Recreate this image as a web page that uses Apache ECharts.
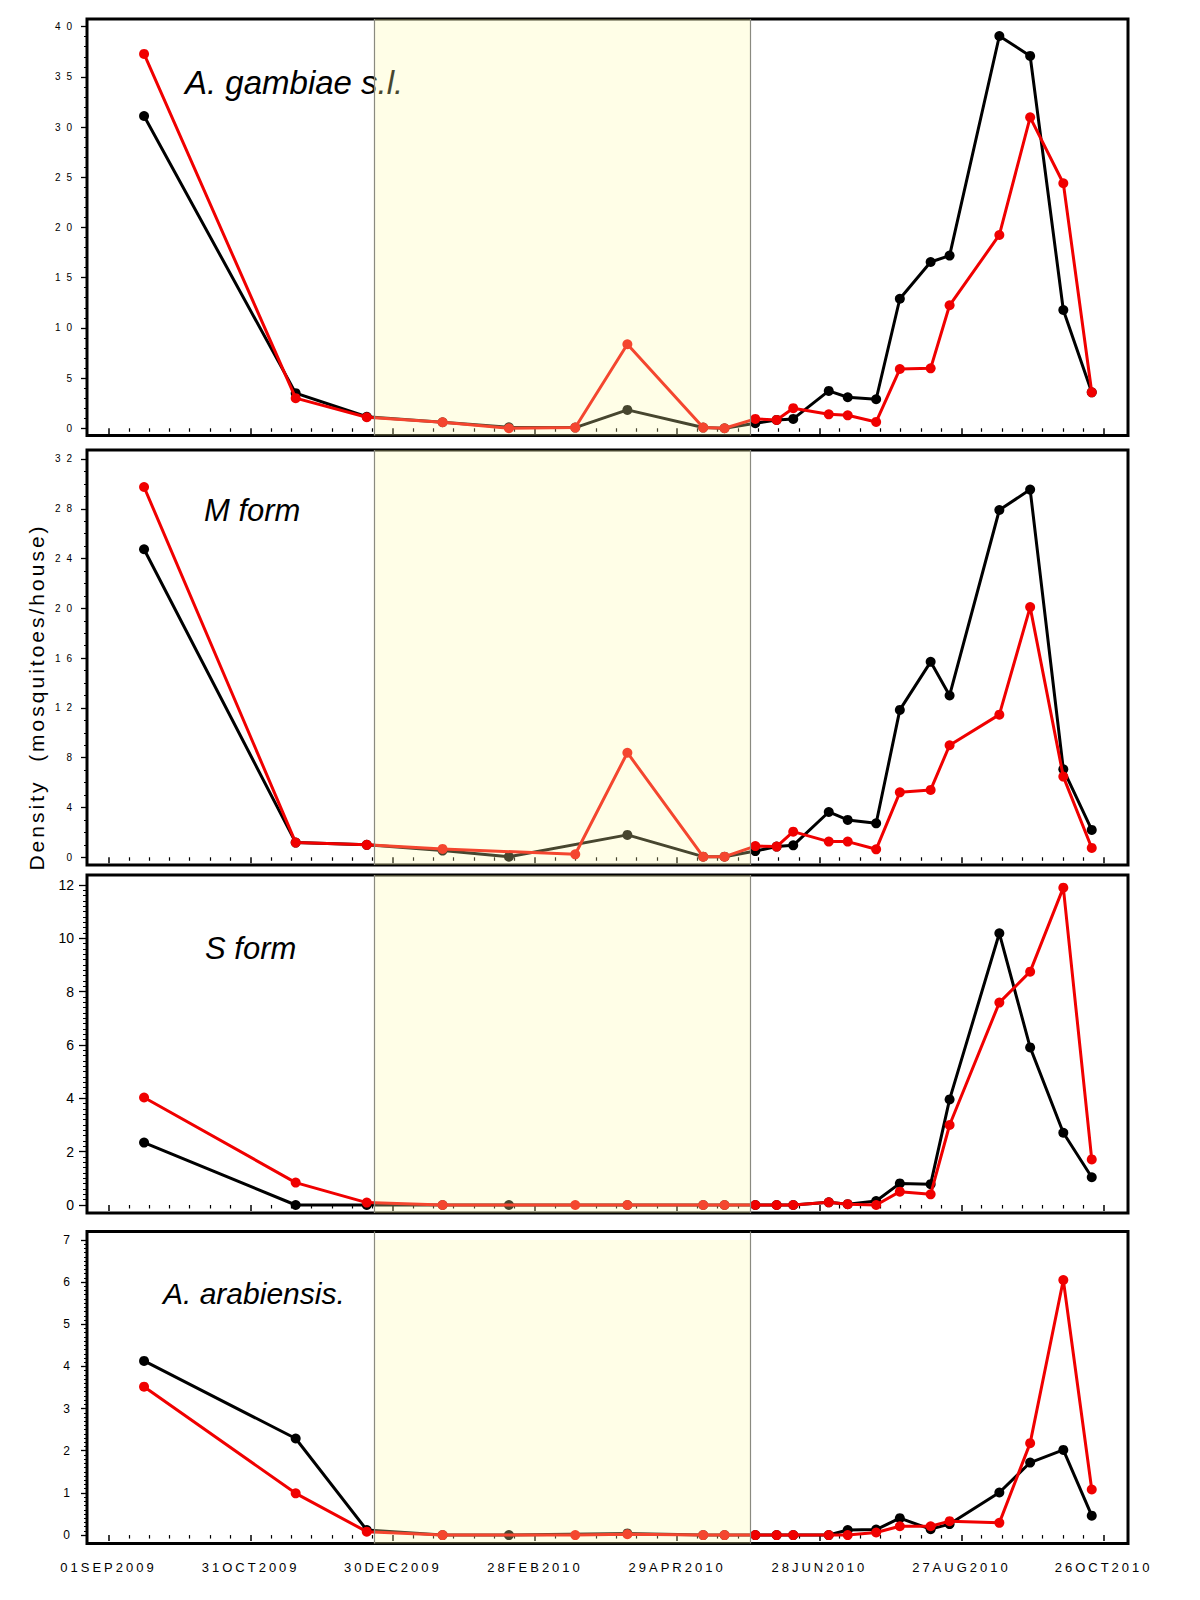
<!DOCTYPE html>
<html>
<head>
<meta charset="utf-8">
<script src="https://cdn.jsdelivr.net/npm/echarts@6/dist/echarts.min.js"></script>
<style>
  html, body { margin: 0; padding: 0; background: #fff; }
  #chart { width: 1200px; height: 1600px; }
  text[style*="lsxlab"] { letter-spacing: 3px; }
  text[style*="lsylab"] { letter-spacing: 6px; }
  text[style*="lsytit"] { letter-spacing: 3px; }
</style>
</head>
<body>
<div id="chart"></div>
<script>
// ---------------- DATA ----------------
const sampleDates = ['2009-09-16','2009-11-19','2009-12-19','2010-01-20','2010-02-17','2010-03-17',
  '2010-04-08','2010-05-10','2010-05-19','2010-06-01','2010-06-10','2010-06-17','2010-07-02',
  '2010-07-10','2010-07-22','2010-08-01','2010-08-14','2010-08-22','2010-09-12','2010-09-25',
  '2010-10-09','2010-10-21'];

const panelTitles = ['A. gambiae s.l.', 'M form', 'S form', 'A. arabiensis.'];

const gambiaeBlack = [31.1, 3.5, 1.15, 0.6, 0.1, 0.07, 1.83, 0.07, 0.0, 0.5, 0.83, 0.93, 3.72, 3.09, 2.89, 12.9, 16.56, 17.2, 39.07, 37.08, 11.78, 3.58];
const gambiaeRed   = [37.28, 3.0, 1.1, 0.6, 0.0, 0.07, 8.37, 0.07, 0.0, 0.93, 0.83, 2.0, 1.39, 1.29, 0.63, 5.9, 5.97, 12.25, 19.25, 30.97, 24.4, 3.58];

const mFormBlack = [24.75, 1.18, 1.0, 0.54, 0.05, null, 1.8, 0.05, 0.05, 0.5, 0.86, 0.96, 3.64, 3.0, 2.73, 11.84, 15.7, 13.0, 27.9, 29.54, 7.07, 2.2];
const mFormRed   = [29.75, 1.18, 1.0, 0.67, null, 0.24, 8.4, 0.05, 0.05, 0.9, 0.86, 2.06, 1.26, 1.26, 0.64, 5.22, 5.41, 9.0, 11.46, 20.1, 6.48, 0.75];

const sFormBlack = [2.34, 0.0, 0.0, 0.0, 0.0, null, 0.0, 0.0, 0.0, 0.0, 0.0, 0.0, 0.1, 0.03, 0.15, 0.81, 0.78, 3.96, 10.19, 5.91, 2.71, 1.04];
const sFormRed   = [4.03, 0.84, 0.09, 0.0, null, 0.0, 0.0, 0.0, 0.0, 0.0, 0.0, 0.0, 0.1, 0.03, 0.0, 0.5, 0.4, 3.0, 7.59, 8.75, 11.9, 1.71];

const arabBlack = [4.13, 2.29, 0.12, 0.0, 0.0, null, 0.04, 0.0, 0.0, 0.0, 0.0, 0.0, 0.0, 0.12, 0.13, 0.4, 0.14, 0.26, 1.01, 1.72, 2.02, 0.46];
const arabRed   = [3.52, 0.99, 0.08, 0.0, null, 0.0, 0.02, 0.0, 0.0, 0.0, 0.0, 0.0, 0.0, 0.0, 0.06, 0.21, 0.21, 0.33, 0.29, 2.18, 6.05, 1.08];

const xTickLabels = ['01SEP2009','31OCT2009','30DEC2009','28FEB2010','29APR2010','28JUN2010','27AUG2010','26OCT2010'];
const yTicks1 = [0, 5, 10, 15, 20, 25, 30, 35, 40];
const yTicks2 = [0, 4, 8, 12, 16, 20, 24, 28, 32];
const yTicks3 = [0, 2, 4, 6, 8, 10, 12];
const yTicks4 = [0, 1, 2, 3, 4, 5, 6, 7];
const yMinorSteps = [1, 1, 0.2, 0.1];

const dryStart = '2009-12-22';
const dryEnd = '2010-05-30';
const yAxisTitle = 'Density  (mosquitoes/house)';

// ---------------- HELPERS ----------------
const DAY = 86400000;
const MONTHS = ['JAN','FEB','MAR','APR','MAY','JUN','JUL','AUG','SEP','OCT','NOV','DEC'];
function ts(s) { const p = s.split('-').map(Number); return Date.UTC(p[0], p[1]-1, p[2]); }
function parseSas(lbl) {
  const d = +lbl.slice(0,2), m = MONTHS.indexOf(lbl.slice(2,5)), y = +lbl.slice(5);
  return Date.UTC(y, m, d);
}
const xTickTs = xTickLabels.map(parseSas);
const labelByTs = {};
xTickTs.forEach((t, i) => { labelByTs[t] = xTickLabels[i]; });
const xMinorTs = [];
for (let i = 0; i < xTickTs.length - 1; i++) {
  const step = (xTickTs[i+1] - xTickTs[i]) / 7;
  for (let k = 1; k < 7; k++) xMinorTs.push(xTickTs[i] + k * step);
}
function minorTicks(ticks, step) {
  const out = [];
  const lo = ticks[0], hi = ticks[ticks.length-1];
  const n = Math.round((hi - lo) / step);
  for (let k = 0; k <= n; k++) {
    const v = +(lo + k * step).toFixed(4);
    if (!ticks.some(t => Math.abs(t - v) < 1e-6)) out.push(v);
  }
  return out;
}

// ---------------- LAYOUT ----------------
const xMin = xTickTs[0] - 9.08 * DAY;
const xMax = xTickTs[xTickTs.length-1] + 10.3 * DAY;
const panels = [
  { top: 19,     bottom: 435.5,  ymin: -0.72, ymax: 40.76, ticks: yTicks1, black: gambiaeBlack, red: gambiaeRed,
    lblSize: 10, lblFam: "'Liberation Sans', lsylab", lblMargin: 9, tickLen: 6, minorLen: 3,
    title: { x: 185, y: 82, size: 33 }, shadeTop: null },
  { top: 450,    bottom: 865,    ymin: -0.62, ymax: 32.72, ticks: yTicks2, black: mFormBlack, red: mFormRed,
    lblSize: 10, lblFam: "'Liberation Sans', lsylab", lblMargin: 9, tickLen: 6, minorLen: 3,
    title: { x: 204, y: 510, size: 31 }, shadeTop: null },
  { top: 875,    bottom: 1213,   ymin: -0.30, ymax: 12.375, ticks: yTicks3, black: sFormBlack, red: sFormRed,
    lblSize: 14, lblFam: "'Liberation Sans'", lblMargin: 13, tickLen: 8, minorLen: 4,
    title: { x: 205, y: 948, size: 31 }, shadeTop: null },
  { top: 1231.5, bottom: 1543.5, ymin: -0.20, ymax: 7.2, ticks: yTicks4, black: arabBlack, red: arabRed,
    lblSize: 12, lblFam: "'Liberation Sans'", lblMargin: 17, tickLen: 6, minorLen: 3,
    title: { x: 163, y: 1293, size: 30 }, shadeTop: 7 }
];

const grid = [], xAxis = [], yAxis = [], series = [], graphic = [];
panels.forEach((p, i) => {
  grid.push({ left: 87, right: 72, top: p.top, height: p.bottom - p.top, show: true,
    borderColor: '#000', borderWidth: 3, backgroundColor: 'transparent' });
  xAxis.push({ type: 'value', gridIndex: i, position: 'bottom', min: xMin, max: xMax,
    axisLine: { show: false }, splitLine: { show: false },
    axisTick: { show: true, inside: false, customValues: xTickTs, length: 6, lineStyle: { color: '#000', width: 1.5 } },
    axisLabel: { show: i === panels.length - 1, customValues: xTickTs, margin: 17, fontSize: 13, color: '#000',
      fontFamily: "'Liberation Sans', lsxlab",
      formatter: v => labelByTs[v] || '' } });
  xAxis.push({ type: 'value', gridIndex: i, position: 'bottom', min: xMin, max: xMax,
    axisLine: { show: false }, splitLine: { show: false },
    axisTick: { show: true, inside: false, customValues: xMinorTs, length: 3.5, lineStyle: { color: '#000', width: 1.2 } },
    axisLabel: { show: false } });
  yAxis.push({ type: 'value', gridIndex: i, position: 'left', min: p.ymin, max: p.ymax,
    axisLine: { show: false }, splitLine: { show: false },
    axisTick: { show: true, customValues: p.ticks, length: p.tickLen, lineStyle: { color: '#000', width: 1.3 } },
    axisLabel: { show: true, customValues: p.ticks, margin: p.lblMargin, fontSize: p.lblSize, color: '#000',
      fontFamily: p.lblFam } });
  yAxis.push({ type: 'value', gridIndex: i, position: 'left', min: p.ymin, max: p.ymax,
    axisLine: { show: false }, splitLine: { show: false },
    axisTick: { show: true, customValues: minorTicks(p.ticks, yMinorSteps[i]), length: p.minorLen, lineStyle: { color: '#000', width: 1 } },
    axisLabel: { show: false } });

  const xi = 2 * i, yi = 2 * i;
  const mk = arr => sampleDates.map((d, k) => [ts(d), arr[k] === null ? '-' : arr[k]]);
  series.push({ name: 'black', type: 'line', xAxisIndex: xi, yAxisIndex: yi, data: mk(p.black),
    connectNulls: true, symbol: 'circle', symbolSize: 10, showSymbol: true, showAllSymbol: true,
    lineStyle: { color: '#000', width: 3 }, itemStyle: { color: '#000' }, z: 2 });
  series.push({ name: 'red', type: 'line', xAxisIndex: xi, yAxisIndex: yi, data: mk(p.red),
    connectNulls: true, symbol: 'circle', symbolSize: 10, showSymbol: true, showAllSymbol: true,
    lineStyle: { color: '#f00000', width: 3 }, itemStyle: { color: '#f00000' }, z: 3 });
  const areaFrom = p.shadeTop === null ? { xAxis: ts(dryStart) } : { xAxis: ts(dryStart), yAxis: p.shadeTop };
  const areaTo = p.shadeTop === null ? { xAxis: ts(dryEnd) } : { xAxis: ts(dryEnd), yAxis: p.ymin };
  series.push({ name: 'dry', type: 'line', xAxisIndex: xi, yAxisIndex: yi, data: [], z: 6,
    markArea: { silent: true, z: 10, itemStyle: { color: 'rgba(255,250,170,0.28)' }, data: [[areaFrom, areaTo]] },
    markLine: { silent: true, z: 11, symbol: ['none', 'none'], label: { show: false },
      lineStyle: { color: '#8a8a80', width: 1.2, type: 'solid' },
      data: [{ xAxis: ts(dryStart) }, { xAxis: ts(dryEnd) }] } });

  graphic.push({ type: 'text', x: p.title.x, y: p.title.y, silent: true,
    style: { text: panelTitles[i], fontSize: p.title.size, fontStyle: 'italic', fontFamily: "'Liberation Sans'",
      fill: '#000', align: 'left', verticalAlign: 'middle' } });
});

graphic.push({ type: 'text', x: 36, y: 697, rotation: Math.PI / 2, silent: true,
  style: { text: yAxisTitle, fontSize: 21, fontFamily: "'Liberation Sans', lsytit", fill: '#000',
    align: 'center', verticalAlign: 'middle' } });

const chart = echarts.init(document.getElementById('chart'), null, { renderer: 'svg', width: 1200, height: 1600 });
chart.setOption({
  backgroundColor: '#fff',
  animation: false,
  grid, xAxis, yAxis, series, graphic
});
</script>
</body>
</html>
